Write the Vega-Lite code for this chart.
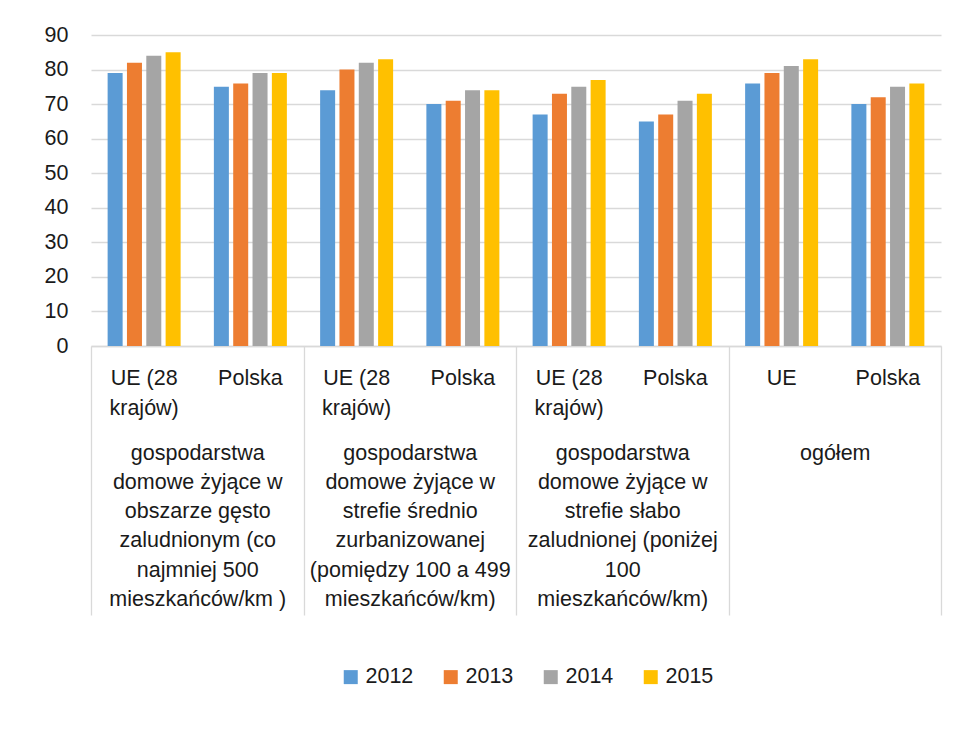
{
  "$schema": "https://vega.github.io/schema/vega-lite/v6.json",
  "width": 850,
  "height": 311,
  "autosize": "none",
  "padding": {"left": 91, "top": 35, "right": 17, "bottom": 407},
  "background": "white",
  "config": {
    "view": {"stroke": null},
    "font": "Liberation Sans",
    "axis": {"labelFont": "Liberation Sans", "labelColor": "#1a1a1a"},
    "legend": {"labelFont": "Liberation Sans", "labelColor": "#1a1a1a"}
  },
  "data": {
    "values": [
      {"grupa": "gospodarstwa\ndomowe żyjące w\nobszarze gęsto\nzaludnionym (co\nnajmniej 500\nmieszkańców/km )", "kategoria": "1 UE (28 krajów)", "rok": "2012", "wartosc": 79},
      {"grupa": "gospodarstwa\ndomowe żyjące w\nobszarze gęsto\nzaludnionym (co\nnajmniej 500\nmieszkańców/km )", "kategoria": "1 UE (28 krajów)", "rok": "2013", "wartosc": 82},
      {"grupa": "gospodarstwa\ndomowe żyjące w\nobszarze gęsto\nzaludnionym (co\nnajmniej 500\nmieszkańców/km )", "kategoria": "1 UE (28 krajów)", "rok": "2014", "wartosc": 84},
      {"grupa": "gospodarstwa\ndomowe żyjące w\nobszarze gęsto\nzaludnionym (co\nnajmniej 500\nmieszkańców/km )", "kategoria": "1 UE (28 krajów)", "rok": "2015", "wartosc": 85},
      {"grupa": "gospodarstwa\ndomowe żyjące w\nobszarze gęsto\nzaludnionym (co\nnajmniej 500\nmieszkańców/km )", "kategoria": "1 Polska", "rok": "2012", "wartosc": 75},
      {"grupa": "gospodarstwa\ndomowe żyjące w\nobszarze gęsto\nzaludnionym (co\nnajmniej 500\nmieszkańców/km )", "kategoria": "1 Polska", "rok": "2013", "wartosc": 76},
      {"grupa": "gospodarstwa\ndomowe żyjące w\nobszarze gęsto\nzaludnionym (co\nnajmniej 500\nmieszkańców/km )", "kategoria": "1 Polska", "rok": "2014", "wartosc": 79},
      {"grupa": "gospodarstwa\ndomowe żyjące w\nobszarze gęsto\nzaludnionym (co\nnajmniej 500\nmieszkańców/km )", "kategoria": "1 Polska", "rok": "2015", "wartosc": 79},
      {"grupa": "gospodarstwa\ndomowe żyjące w\nstrefie średnio\nzurbanizowanej\n(pomiędzy 100 a 499\nmieszkańców/km)", "kategoria": "2 UE (28 krajów)", "rok": "2012", "wartosc": 74},
      {"grupa": "gospodarstwa\ndomowe żyjące w\nstrefie średnio\nzurbanizowanej\n(pomiędzy 100 a 499\nmieszkańców/km)", "kategoria": "2 UE (28 krajów)", "rok": "2013", "wartosc": 80},
      {"grupa": "gospodarstwa\ndomowe żyjące w\nstrefie średnio\nzurbanizowanej\n(pomiędzy 100 a 499\nmieszkańców/km)", "kategoria": "2 UE (28 krajów)", "rok": "2014", "wartosc": 82},
      {"grupa": "gospodarstwa\ndomowe żyjące w\nstrefie średnio\nzurbanizowanej\n(pomiędzy 100 a 499\nmieszkańców/km)", "kategoria": "2 UE (28 krajów)", "rok": "2015", "wartosc": 83},
      {"grupa": "gospodarstwa\ndomowe żyjące w\nstrefie średnio\nzurbanizowanej\n(pomiędzy 100 a 499\nmieszkańców/km)", "kategoria": "2 Polska", "rok": "2012", "wartosc": 70},
      {"grupa": "gospodarstwa\ndomowe żyjące w\nstrefie średnio\nzurbanizowanej\n(pomiędzy 100 a 499\nmieszkańców/km)", "kategoria": "2 Polska", "rok": "2013", "wartosc": 71},
      {"grupa": "gospodarstwa\ndomowe żyjące w\nstrefie średnio\nzurbanizowanej\n(pomiędzy 100 a 499\nmieszkańców/km)", "kategoria": "2 Polska", "rok": "2014", "wartosc": 74},
      {"grupa": "gospodarstwa\ndomowe żyjące w\nstrefie średnio\nzurbanizowanej\n(pomiędzy 100 a 499\nmieszkańców/km)", "kategoria": "2 Polska", "rok": "2015", "wartosc": 74},
      {"grupa": "gospodarstwa\ndomowe żyjące w\nstrefie słabo\nzaludnionej (poniżej\n100\nmieszkańców/km)", "kategoria": "3 UE (28 krajów)", "rok": "2012", "wartosc": 67},
      {"grupa": "gospodarstwa\ndomowe żyjące w\nstrefie słabo\nzaludnionej (poniżej\n100\nmieszkańców/km)", "kategoria": "3 UE (28 krajów)", "rok": "2013", "wartosc": 73},
      {"grupa": "gospodarstwa\ndomowe żyjące w\nstrefie słabo\nzaludnionej (poniżej\n100\nmieszkańców/km)", "kategoria": "3 UE (28 krajów)", "rok": "2014", "wartosc": 75},
      {"grupa": "gospodarstwa\ndomowe żyjące w\nstrefie słabo\nzaludnionej (poniżej\n100\nmieszkańców/km)", "kategoria": "3 UE (28 krajów)", "rok": "2015", "wartosc": 77},
      {"grupa": "gospodarstwa\ndomowe żyjące w\nstrefie słabo\nzaludnionej (poniżej\n100\nmieszkańców/km)", "kategoria": "3 Polska", "rok": "2012", "wartosc": 65},
      {"grupa": "gospodarstwa\ndomowe żyjące w\nstrefie słabo\nzaludnionej (poniżej\n100\nmieszkańców/km)", "kategoria": "3 Polska", "rok": "2013", "wartosc": 67},
      {"grupa": "gospodarstwa\ndomowe żyjące w\nstrefie słabo\nzaludnionej (poniżej\n100\nmieszkańców/km)", "kategoria": "3 Polska", "rok": "2014", "wartosc": 71},
      {"grupa": "gospodarstwa\ndomowe żyjące w\nstrefie słabo\nzaludnionej (poniżej\n100\nmieszkańców/km)", "kategoria": "3 Polska", "rok": "2015", "wartosc": 73},
      {"grupa": "ogółem", "kategoria": "4 UE", "rok": "2012", "wartosc": 76},
      {"grupa": "ogółem", "kategoria": "4 UE", "rok": "2013", "wartosc": 79},
      {"grupa": "ogółem", "kategoria": "4 UE", "rok": "2014", "wartosc": 81},
      {"grupa": "ogółem", "kategoria": "4 UE", "rok": "2015", "wartosc": 83},
      {"grupa": "ogółem", "kategoria": "4 Polska", "rok": "2012", "wartosc": 70},
      {"grupa": "ogółem", "kategoria": "4 Polska", "rok": "2013", "wartosc": 72},
      {"grupa": "ogółem", "kategoria": "4 Polska", "rok": "2014", "wartosc": 75},
      {"grupa": "ogółem", "kategoria": "4 Polska", "rok": "2015", "wartosc": 76}
    ]
  },
  "layer": [
    {
      "mark": {"type": "bar"},
      "encoding": {
        "x": {
          "field": "kategoria",
          "type": "nominal",
          "sort": null,
          "scale": {"paddingInner": 0.313, "paddingOuter": 0.1565},
          "axis": {
            "title": null,
            "orient": "bottom",
            "labelExpr": "split(replace(slice(datum.label, 2), ' krajów', '\\nkrajów'), '\\n')",
            "labelAngle": 0,
            "labelFontSize": 21.5,
            "labelLineHeight": 30,
            "labelPadding": 21,
            "labelLimit": 0,
            "labelOverlap": false,
            "ticks": false,
            "domain": true,
            "domainColor": "#d9d9d9",
            "domainWidth": 1.3
          }
        },
        "xOffset": {
          "field": "rok",
          "type": "nominal",
          "scale": {"paddingInner": 0.224, "paddingOuter": 0}
        },
        "y": {
          "field": "wartosc",
          "type": "quantitative",
          "scale": {"domain": [0, 90], "nice": false},
          "axis": {
            "title": null,
            "values": [0, 10, 20, 30, 40, 50, 60, 70, 80, 90],
            "grid": true,
            "gridColor": "#d9d9d9",
            "gridWidth": 1.3,
            "domain": false,
            "ticks": false,
            "labelFontSize": 21.5,
            "labelPadding": 23
          }
        },
        "color": {
          "field": "rok",
          "type": "nominal",
          "scale": {
            "domain": ["2012", "2013", "2014", "2015"],
            "range": ["#5B9BD5", "#ED7D31", "#A5A5A5", "#FFC000"]
          },
          "legend": {
            "title": null,
            "orient": "none",
            "legendX": 249,
            "legendY": 631,
            "direction": "horizontal",
            "symbolType": "square",
            "symbolSize": 196,
            "symbolStrokeWidth": 0,
            "symbolOpacity": 1,
            "labelFontSize": 21.5,
            "labelOffset": 4,
            "columnPadding": 26
          }
        }
      }
    },
    {
      "mark": {"type": "text"},
      "encoding": {
        "x": {
          "field": "grupa",
          "type": "nominal",
          "sort": null,
          "scale": {"paddingInner": 0, "paddingOuter": 0},
          "axis": {
            "title": null,
            "orient": "bottom",
            "labelExpr": "split(datum.label, '\\n')",
            "labelAngle": 0,
            "labelFontSize": 21.5,
            "labelLineHeight": 29.3,
            "labelPadding": -173,
            "labelLimit": 0,
            "labelOverlap": false,
            "domain": false,
            "ticks": true,
            "tickBand": "extent",
            "tickSize": 269,
            "tickColor": "#d9d9d9",
            "tickWidth": 1.3
          }
        },
        "text": {"value": ""}
      }
    }
  ],
  "resolve": {"scale": {"x": "independent"}, "axis": {"x": "independent"}}
}
